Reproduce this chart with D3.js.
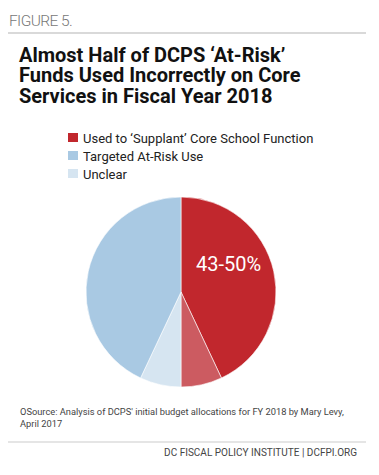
<!DOCTYPE html>
<html><head><meta charset="utf-8">
<script src="https://cdn.jsdelivr.net/npm/d3@7"></script>
<style>body{margin:0;background:#fff}svg{display:block;font-family:Roboto,"Noto Sans",sans-serif}</style>
</head><body>
<script>
const categories = ["Used to \u2018Supplant\u2019 Core School Function", "Supplant range", "Unclear", "Targeted At-Risk Use"];
const values = [43, 7, 7, 43];
const colors = ["#c1272d", "#cc5b61", "#d6e5f1", "#a9c9e3"];
const legendItems = [
  {label: "Used to \u2018Supplant\u2019 Core School Function", color: "#c1272d"},
  {label: "Targeted At-Risk Use", color: "#a9c9e3"},
  {label: "Unclear", color: "#d6e5f1"}
];
const titleLines = ["Almost Half of DCPS \u2018At-Risk\u2019", "Funds Used Incorrectly on Core", "Services in Fiscal Year 2018"];
const sliceLabel = "43-50%";
const sourceLines = ["OSource: Analysis of DCPS' initial budget allocations for FY 2018 by Mary Levy,", "April 2017"];

const W = 379, H = 475;
const svg = d3.select("body").append("svg").attr("width", W).attr("height", H);

svg.append("text").attr("x", 9).attr("y", 26).attr("font-size", 15.5).attr("font-weight", 300)
  .attr("fill", "#777").attr("letter-spacing", -0.6).text("FIGURE 5.");
svg.append("line").attr("x1", 8).attr("x2", 366).attr("y1", 33).attr("y2", 33)
  .attr("stroke", "#ccc").attr("stroke-width", 1.5);

svg.append("g").selectAll("text").data(titleLines).join("text")
  .attr("x", 19).attr("y", (d, i) => 62 + i * 20.4)
  .attr("font-size", 20).attr("font-weight", 700).attr("fill", "#111").text(d => d);

const lg = svg.append("g").selectAll("g").data(legendItems).join("g")
  .attr("transform", (d, i) => `translate(68,${133 + i * 18})`);
lg.append("rect").attr("width", 10).attr("height", 9).attr("fill", d => d.color);
lg.append("text").attr("x", 15).attr("y", 9.5).attr("font-size", 13).attr("fill", "#222").text(d => d.label);

const cx = 181, cy = 292, r = 95;
const pie = d3.pie().sort(null).value(d => d)(values);
const arc = d3.arc().innerRadius(0).outerRadius(r);
const g = svg.append("g").attr("transform", `translate(${cx},${cy})`);
g.selectAll("path").data(pie).join("path")
  .attr("d", arc).attr("fill", (d, i) => colors[i])
  .attr("stroke", "#fff").attr("stroke-width", 0.6);

const lx = d3.scaleLinear().domain([0, 1]).range([0, r]);
g.append("text").attr("x", lx(0.5)).attr("y", -21).attr("text-anchor", "middle")
  .attr("font-size", 20).attr("fill", "#fff").text(sliceLabel);

svg.append("g").selectAll("text").data(sourceLines).join("text")
  .attr("x", 20).attr("y", (d, i) => 415 + i * 11.5)
  .attr("font-size", 9.3).attr("fill", "#444").text(d => d);

svg.append("line").attr("x1", 8).attr("x2", 366).attr("y1", 442).attr("y2", 442)
  .attr("stroke", "#ddd").attr("stroke-width", 1.5);
svg.append("text").attr("x", 357).attr("y", 456).attr("text-anchor", "end")
  .attr("font-size", 10).attr("fill", "#444").text("DC FISCAL POLICY INSTITUTE | DCFPI.ORG");
</script>
</body></html>
